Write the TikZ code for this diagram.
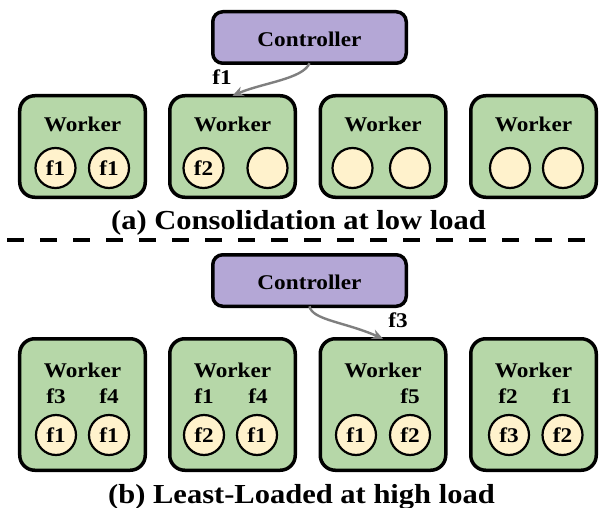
\documentclass[tikz,border=0pt]{standalone}
\usepackage{fontspec}
\setmainfont{Liberation Serif}[FakeStretch=1.11]
\usetikzlibrary{arrows.meta}
\definecolor{ctrlfill}{HTML}{B4A7D6}
\definecolor{workfill}{HTML}{B6D7A8}
\definecolor{slotfill}{HTML}{FFF2CC}
\definecolor{arrowgray}{HTML}{7F7F7F}
\begin{document}
\begin{tikzpicture}[x=1bp,y=-1bp,
  workerbox/.style={draw=black, line width=3.5bp, fill=workfill, rounded corners=15bp,
    minimum width=125.5bp, inner sep=0pt, outer sep=0pt},
  ctrlbox/.style={draw=black, line width=3.5bp, fill=ctrlfill, rounded corners=10bp,
    minimum width=193.5bp, minimum height=51.5bp, inner sep=0pt, outer sep=0pt},
  slot/.style={circle, draw=black, line width=2.2bp, fill=slotfill, minimum size=40bp,
    inner sep=0pt, outer sep=0pt, font=\fontsize{21}{24}\selectfont\bfseries},
  lbl/.style={anchor=base, inner sep=0pt, font=\fontsize{21}{24}\selectfont\bfseries},
  captext/.style={anchor=base, inner sep=0pt, font=\fontsize{27.6}{30}\selectfont\bfseries},
  flow/.style={draw=arrowgray, line width=2.4bp, -{Stealth[length=11bp,width=10bp]}}
]
\useasboundingbox (0,0) rectangle (600,508);

% ---------- (a) ----------
\node[ctrlbox] (ctrlA) at (309.5,37.5) {};
\node[lbl] (ctrlAt) at (309.5,47) {Controller};

\foreach \cx [count=\i] in {82.5,232.5,383,533.5}{
  \node[workerbox, minimum height=101.5bp] (wA\i) at (\cx,146.5) {};
  \node[lbl] (wA\i t) at (\cx,132) {Worker};
}
\node[slot] (sA11) at (55.5,168) {f1};
\node[slot] (sA12) at (109,168) {f1};
\node[slot] (sA21) at (203.5,168) {f2};
\node[slot] (sA22) at (267.5,168) {};
\node[slot] (sA31) at (352.5,168) {};
\node[slot] (sA32) at (410,168) {};
\node[slot] (sA41) at (510,168) {};
\node[slot] (sA42) at (563,168) {};

\draw[flow] (ctrlA.south) .. controls (303,79) and (262,83) .. (wA2.north);
\node[lbl] (fA) at (222,85) {f1};

\node[captext] (capA) at (298.5,230) {(a) Consolidation at low load};

\draw[line width=4bp, dash pattern=on 17bp off 16bp] (7,240) -- (600,240);

% ---------- (b) ----------
\node[ctrlbox] (ctrlB) at (309.5,280.5) {};
\node[lbl] (ctrlBt) at (309.5,289) {Controller};

\foreach \cx [count=\i] in {82.5,232.5,383,533.5}{
  \node[workerbox, minimum height=131.5bp] (wB\i) at (\cx,404.5) {};
  \node[lbl] (wB\i t) at (\cx,377) {Worker};
}
\node[lbl] (lB11) at (56,403) {f3};
\node[lbl] (lB12) at (109,403) {f4};
\node[lbl] (lB21) at (204,403) {f1};
\node[lbl] (lB22) at (258,403) {f4};
\node[lbl] (lB32) at (410,403) {f5};
\node[lbl] (lB41) at (508,403) {f2};
\node[lbl] (lB42) at (562,403) {f1};

\node[slot] (sB11) at (56,435) {f1};
\node[slot] (sB12) at (109,435) {f1};
\node[slot] (sB21) at (204,435) {f2};
\node[slot] (sB22) at (257,435) {f1};
\node[slot] (sB31) at (356,435) {f1};
\node[slot] (sB32) at (410,435) {f2};
\node[slot] (sB41) at (509,435) {f3};
\node[slot] (sB42) at (562.5,435) {f2};

\draw[flow] (ctrlB.south) .. controls (312,320) and (345,322) .. (wB3.north);
\node[lbl] (fB) at (398,327) {f3};

\node[captext] (capB) at (301.5,503) {(b) Least-Loaded at high load};
\end{tikzpicture}
\end{document}
